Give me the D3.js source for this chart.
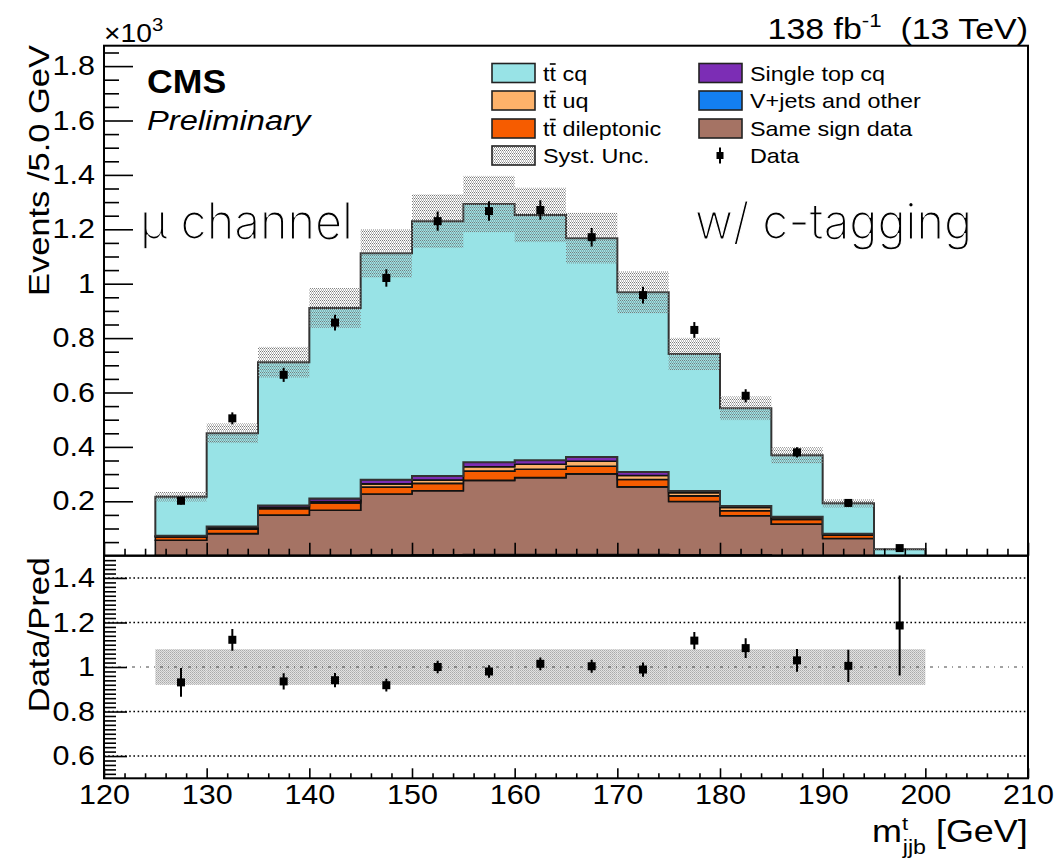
<!DOCTYPE html>
<html><head><meta charset="utf-8">
<script src="https://cdn.jsdelivr.net/npm/d3@7"></script>
<style>
body{margin:0;background:#fff}
svg{display:block}
text{font-family:"Liberation Sans",Arial,Helvetica,sans-serif;white-space:pre}
</style>
</head><body><svg id="c" width="1054" height="861"></svg>
<script>
// ---------------- data (events per 5 GeV bin) ----------------
const binLow  = [125,130,135,140,145,150,155,160,165,170,175,180,185,190,195];
const binWidth = 5;
const vjets   = [1,1,1,1,2,3,4,4,4,4,3,3,1,1,0];
const ssdata  = [56,80,148,166,225,236,273,283,297,249,196,144,115,62,0];
const dilep   = [12,16,24,27,25,27,34,31,28,27,21,18,17,12,0];
const ttuq    = [2,5,4,5,12,12,16,18,18,15,12,12,7,4,0];
const stcq    = [2,5,8,11,15,15,17,15,16,13,6,6,3,2,0];
const ttcq    = [144,343,526,701,833,937,949,902,804,661,504,359,226,112,23.6];
const data    = [202,505,665,857,1021,1230,1267,1271,1171,958,830,588,380,194,28];
const dataErr = [14,22,26,29,32,35,36,36,34,31,29,24,19,14,5.3];
const systRel = [0.08,0.08,0.08,0.08,0.08,0.08,0.08,0.08,0.08,0.08,0.08,0.08,0.08,0.08,0.08];
const xTicksMajor = [120,130,140,150,160,170,180,190,200,210];
const yTicksMain  = [200,400,600,800,1000,1200,1400,1600,1800];
const yTicksRatio = [0.6,0.8,1,1.2,1.4];
const legendCol1 = [
  {key:"ttcq", label:["t","t"," cq"]},
  {key:"ttuq", label:["t","t"," uq"]},
  {key:"dilep",label:["t","t"," dileptonic"]},
  {key:"syst", label:["Syst. Unc."]}];
const legendCol2 = [
  {key:"stcq",  label:["Single top cq"]},
  {key:"vjets", label:["V+jets and other"]},
  {key:"ssdata",label:["Same sign data"]},
  {key:"data",  label:["Data"]}];

const colors = {ttcq:"#98e3e6", ttuq:"#fdb26a", dilep:"#f65c00", stcq:"#7c2db5", vjets:"#137ff2", ssdata:"#a57364"};
const stackKeys = ["vjets","ssdata","dilep","ttuq","stcq","ttcq"];
const series0 = {vjets, ssdata, dilep, ttuq, stcq, ttcq};

// ---------------- layout ----------------
const L=104, R=1028, T=45.7, MB=555.7, RB=778.3;
const SX=1.13;
const svg=d3.select("#c");
const x=d3.scaleLinear().domain([120,210]).range([L,R]);
const y=d3.scaleLinear().domain([0,1875]).range([MB,T]);
const yr=d3.scaleLinear().domain([0.5,1.5]).range([RB,MB]);

const defs=svg.append("defs");
const p1=defs.append("pattern").attr("id","syst").attr("width",4).attr("height",3).attr("patternUnits","userSpaceOnUse");
[[0,0],[2,0],[1,1.5],[3,1.5]].forEach(([a,b])=>p1.append("rect").attr("x",a).attr("y",b).attr("width",1).attr("height",1).attr("fill","#7a7a7a"));
const p2=defs.append("pattern").attr("id","systR").attr("width",2).attr("height",2).attr("patternUnits","userSpaceOnUse");
p2.append("rect").attr("width",2).attr("height",2).attr("fill","#e2e2e2");
p2.append("rect").attr("x",0).attr("y",0).attr("width",1).attr("height",1).attr("fill","#aaaaaa");
p2.append("rect").attr("x",1).attr("y",1).attr("width",1).attr("height",1).attr("fill","#bdbdbd");
defs.append("clipPath").attr("id","clipTop").append("rect").attr("x",L).attr("y",T).attr("width",R-L).attr("height",MB-T);
defs.append("clipPath").attr("id","clipR").append("rect").attr("x",L).attr("y",MB).attr("width",R-L).attr("height",RB-MB);

function txt(parent,px,py,str,o={}){
  const g=parent.append("g").attr("transform",`translate(${px},${py})${o.rot?` rotate(${o.rot})`:""} scale(${o.sx??SX},1)`);
  const t=g.append("text").attr("font-size",o.size||27).attr("text-anchor",o.anchor||"start")
    .attr("font-weight",o.weight||"normal").attr("font-style",o.style||"normal").attr("fill","#000");
  if(o.family) t.style("font-family",o.family);
  if(str!==null) t.text(str);
  return t;
}

// ---------------- top panel ----------------
const table=binLow.map((b,i)=>{const r={bin:b};stackKeys.forEach(k=>r[k]=series0[k][i]);return r;});
const stacked=d3.stack().keys(stackKeys)(table);
const total=table.map((r,i)=>stackKeys.reduce((s,k)=>s+r[k],0));
const area=d3.area().x(d=>x(d.x)).y0(d=>y(d.y0)).y1(d=>y(d.y1)).curve(d3.curveStepAfter);
const topG=svg.append("g").attr("clip-path","url(#clipTop)");
stacked.forEach(layer=>{
  const pts=layer.map(d=>({x:d.data.bin,y0:d[0],y1:d[1]}));
  const last=pts[pts.length-1];
  pts.push({x:last.x+binWidth,y0:last.y0,y1:last.y1});
  const isTop=layer.key==="ttcq";
  topG.append("path").attr("d",area(pts)).attr("fill",colors[layer.key])
    .attr("stroke",isTop?"#333":"#111").attr("stroke-width",isTop?2:1.6).attr("stroke-linejoin","miter");
});
// syst band
topG.selectAll("rect.syst").data(binLow).join("rect").attr("class","syst")
  .attr("x",b=>x(b)).attr("width",b=>x(b+binWidth)-x(b))
  .attr("y",(b,i)=>y(total[i]*(1+systRel[i]))).attr("height",(b,i)=>y(total[i]*(1-systRel[i]))-y(total[i]*(1+systRel[i])))
  .attr("fill","url(#syst)");
// data
binLow.forEach((b,i)=>{
  const cx=x(b+binWidth/2);
  topG.append("line").attr("x1",cx).attr("x2",cx).attr("y1",y(data[i]-dataErr[i])).attr("y2",y(data[i]+dataErr[i])).attr("stroke","#000").attr("stroke-width",2);
  topG.append("rect").attr("x",cx-4).attr("y",y(data[i])-4).attr("width",8).attr("height",8).attr("fill","#000");
});

function styleAxis(g,size){
  g.select(".domain").remove();
  g.selectAll("line").attr("stroke","#000").attr("stroke-width",1.6);
  g.attr("font-family",null).attr("font-size",size||27);
  g.selectAll("text").attr("fill","#000").attr("transform",`scale(${SX},1)`);
}
const fmtMain=d=>d3.format("~g")(d/1000);
// y main
svg.append("g").attr("transform",`translate(${L},0)`)
  .call(d3.axisLeft(y).tickValues(d3.range(50,1851,50).filter(v=>v%200!==0)).tickSize(-15).tickFormat(""))
  .call(g=>styleAxis(g));
svg.append("g").attr("transform",`translate(${L},0)`)
  .call(d3.axisLeft(y).tickValues(yTicksMain).tickSize(-29).tickPadding(8).tickFormat(fmtMain))
  .call(g=>styleAxis(g));
// x main (no labels)
svg.append("g").attr("transform",`translate(0,${MB})`)
  .call(d3.axisBottom(x).tickValues(d3.range(122,210,2).filter(v=>v%10!==0)).tickSize(-7).tickFormat(""))
  .call(g=>styleAxis(g));
svg.append("g").attr("transform",`translate(0,${MB})`)
  .call(d3.axisBottom(x).tickValues(xTicksMajor).tickSize(-13).tickFormat(""))
  .call(g=>styleAxis(g));

// ---------------- ratio panel ----------------
const rp=svg.append("g").attr("clip-path","url(#clipR)");
rp.selectAll("rect.rs").data(binLow).join("rect").attr("class","rs")
  .attr("x",b=>x(b)).attr("width",b=>x(b+binWidth)-x(b))
  .attr("y",(b,i)=>yr(1+systRel[i])).attr("height",(b,i)=>yr(1-systRel[i])-yr(1+systRel[i]))
  .attr("fill","url(#systR)");
yTicksRatio.forEach(v=>{
  rp.append("line").attr("x1",L).attr("x2",R).attr("y1",yr(v)).attr("y2",yr(v))
    .attr("stroke",v===1?"#444":"#000").attr("stroke-width",v===1?1:1.6)
    .attr("stroke-dasharray",v===1?"3,5,1,5":"1.6,2.6");
});
binLow.forEach((b,i)=>{
  const cx=x(b+binWidth/2), r=data[i]/total[i], e=dataErr[i]/total[i];
  rp.append("line").attr("x1",cx).attr("x2",cx).attr("y1",yr(r-e)).attr("y2",yr(r+e)).attr("stroke","#000").attr("stroke-width",2);
  rp.append("rect").attr("x",cx-4).attr("y",yr(r)-4).attr("width",8).attr("height",8).attr("fill","#000");
});
svg.append("g").attr("transform",`translate(${L},0)`)
  .call(d3.axisLeft(yr).tickValues(d3.range(0.52,1.5,0.02).filter(v=>Math.abs(v*5-Math.round(v*5))>1e-6)).tickSize(-12).tickFormat(""))
  .call(g=>styleAxis(g));
svg.append("g").attr("transform",`translate(${L},0)`)
  .call(d3.axisLeft(yr).tickValues(yTicksRatio).tickSize(-23).tickPadding(8).tickFormat(d3.format("~g")))
  .call(g=>styleAxis(g));
svg.append("g").attr("transform",`translate(0,${RB})`)
  .call(d3.axisBottom(x).tickValues(d3.range(122,210,2).filter(v=>v%10!==0)).tickSize(-5).tickFormat(""))
  .call(g=>styleAxis(g));
svg.append("g").attr("transform",`translate(0,${RB})`)
  .call(d3.axisBottom(x).tickValues(xTicksMajor).tickSize(-10).tickPadding(7).tickFormat(d3.format("d")))
  .call(g=>styleAxis(g));

// frames
svg.append("rect").attr("x",L).attr("y",T).attr("width",R-L).attr("height",MB-T).attr("fill","none").attr("stroke","#000").attr("stroke-width",2);
svg.append("rect").attr("x",L).attr("y",MB).attr("width",R-L).attr("height",RB-MB).attr("fill","none").attr("stroke","#000").attr("stroke-width",2);

// ---------------- texts ----------------
{const t=txt(svg,104,42,"×10",{size:25});t.append("tspan").attr("font-size",18).attr("dy",-11).text("3");}
{const t=txt(svg,1028,39,"138 fb",{size:29,anchor:"end",sx:1.17});
 t.append("tspan").attr("font-size",19).attr("dy",-12).text("-1");
 t.append("tspan").attr("font-size",29).attr("dy",12).text("  (13 TeV)");}
txt(svg,147,93,"CMS",{size:33,weight:"bold",sx:1.08});
txt(svg,147,130,"Preliminary",{size:27,style:"italic",sx:1.21});
txt(svg,49,45,"Events /5.0 GeV",{size:30,anchor:"end",rot:-90,sx:1.15});
txt(svg,49,557,"Data/Pred",{size:30,anchor:"end",rot:-90,sx:1.15});
{const t=txt(svg,872,842,"m",{size:31,sx:1.16});
 t.append("tspan").attr("font-size",19).attr("dy",-12).text("t");
 t.append("tspan").attr("font-size",20).attr("x",26.5).attr("dy",24).text("jjb");
 t.append("tspan").attr("font-size",31).attr("dy",-12).text(" [GeV]");}
const thin="Inter, 'Open Sans', Lato, Roboto, sans-serif";
txt(svg,140,239,"μ channel",{size:50,weight:300,family:thin,sx:1}).attr("textLength",213).attr("lengthAdjust","spacingAndGlyphs")
  .attr("stroke","#fff").attr("stroke-width",1.2);
txt(svg,695,239,"w/ c-tagging",{size:50,weight:300,family:thin,sx:1}).attr("textLength",277).attr("lengthAdjust","spacingAndGlyphs")
  .attr("stroke","#fff").attr("stroke-width",1.2);

// ---------------- legend ----------------
function legendEntry(item,bx,tx,cy){
  if(item.key==="data"){
    svg.append("line").attr("x1",bx+21).attr("x2",bx+21).attr("y1",cy-8).attr("y2",cy+8).attr("stroke","#000").attr("stroke-width",2);
    svg.append("rect").attr("x",bx+17.5).attr("y",cy-3.5).attr("width",7).attr("height",7).attr("fill","#000");
  } else {
    svg.append("rect").attr("x",bx).attr("y",cy-9.5).attr("width",43).attr("height",19)
      .attr("fill",item.key==="syst"?"url(#syst)":colors[item.key]).attr("stroke","#222").attr("stroke-width",1.6);
  }
  const t=txt(svg,tx,cy+7.5,null,{size:20.5,sx:1.14});
  if(item.label.length===3){
    t.append("tspan").text(item.label[0]);
    t.append("tspan").text(item.label[1]);
    t.append("tspan").text(item.label[2]);
    const node=t.node();
    const s=node.getStartPositionOfChar(1).x, e=node.getEndPositionOfChar(1).x;
    d3.select(node.parentNode).append("line")
      .attr("x1",s+0.3).attr("x2",e-0.3).attr("y1",-16.5).attr("y2",-16.5).attr("stroke","#000").attr("stroke-width",1.6);
  } else t.text(item.label[0]);
}
const rowsY=[73,100.5,128.5,155.5];
legendCol1.forEach((it,i)=>legendEntry(it,492,543,rowsY[i]));
legendCol2.forEach((it,i)=>legendEntry(it,699,750,rowsY[i]));
</script></body></html>
